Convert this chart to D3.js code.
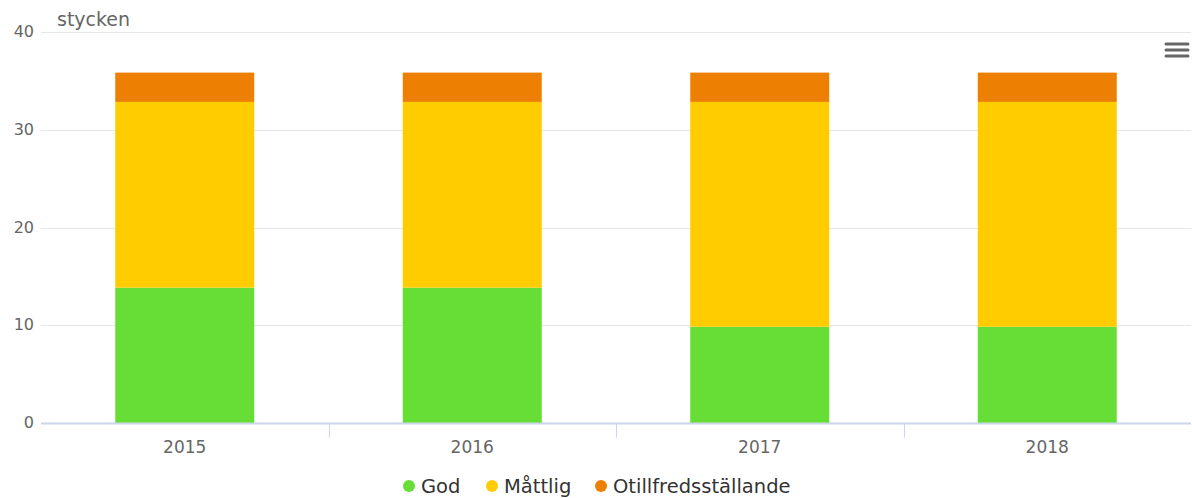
<!DOCTYPE html>
<html>
<head>
  <meta charset='utf-8'>
  <title>Stycken per år</title>
  <script src="https://cdnjs.cloudflare.com/ajax/libs/d3/7.8.5/d3.min.js"></script>
  <style>
    body { margin: 0; background: #fff; }
    text { font-family: 'DejaVu Sans', Verdana, sans-serif; }
  </style>
</head>
<body>
  <svg id="chart" width="1192" height="498"></svg>
  <script>
    const years = ['2015', '2016', '2017', '2018'];
    const seriesNames = ['God', 'Måttlig', 'Otillfredsställande'];
    const god = [14, 14, 10, 10];
    const mattlig = [19, 19, 23, 23];
    const otillfredsstallande = [3, 3, 3, 3];
    const yTicks = [0, 10, 20, 30, 40];
    const colors = ['#66de35', '#ffcc00', '#ed8002'];

    const width = 1192;
    const height = 498;
    const margin = { top: 32, right: 1, bottom: 75, left: 41 };

    const svg = d3.select('#chart');

    const rows = years.map((y, i) => ({ year: y, God: god[i], 'Måttlig': mattlig[i], Otillfredsställande: otillfredsstallande[i] }));
    const stacked = d3.stack().keys(seriesNames)(rows);

    const x = d3.scaleBand()
      .domain(years)
      .range([margin.left, width - margin.right]);

    const y = d3.scaleLinear()
      .domain([0, 40])
      .range([height - margin.bottom, margin.top]);

    // grid
    svg.append('g')
      .selectAll('line')
      .data(yTicks)
      .join('line')
      .attr('x1', margin.left)
      .attr('x2', width - margin.right)
      .attr('y1', d => Math.round(y(d)) + 0.5)
      .attr('y2', d => Math.round(y(d)) + 0.5)
      .attr('stroke', '#e6e6e6');

    // y labels
    svg.append('g')
      .selectAll('text')
      .data(yTicks)
      .join('text')
      .attr('x', 34)
      .attr('y', d => y(d) + 5)
      .attr('text-anchor', 'end')
      .attr('fill', '#666')
      .style('font-size', '16px')
      .text(d => d);

    svg.append('text')
      .attr('x', 57)
      .attr('y', 26)
      .attr('fill', '#666')
      .style('font-size', '19px')
      .text('stycken');

    // bars (1px offset mimics the crisp border of the original)
    const barW = 139;
    svg.append('g')
      .selectAll('g')
      .data(stacked)
      .join('g')
      .attr('fill', (d, i) => colors[i])
      .selectAll('rect')
      .data(d => d)
      .join('rect')
      .attr('x', d => x(d.data.year) + x.bandwidth() / 2 - barW / 2)
      .attr('y', d => y(d[1]) + 1.5)
      .attr('width', barW)
      .attr('height', d => Math.max(0, y(d[0]) - y(d[1]) - (d[0] === 0 ? 1.5 : 0)));

    // x axis
    const axisY = Math.round(y(0)) + 0.5;
    svg.append('line')
      .attr('x1', margin.left)
      .attr('x2', width - margin.right)
      .attr('y1', axisY)
      .attr('y2', axisY)
      .attr('stroke', '#ccd6eb')
      .attr('stroke-width', 2);

    svg.append('g')
      .selectAll('line')
      .data(years.slice(1))
      .join('line')
      .attr('x1', d => Math.round(x(d)) + 0.5)
      .attr('x2', d => Math.round(x(d)) + 0.5)
      .attr('y1', axisY)
      .attr('y2', axisY + 14)
      .attr('stroke', '#ccd6eb');

    svg.append('g')
      .selectAll('text')
      .data(years)
      .join('text')
      .attr('x', d => x(d) + x.bandwidth() / 2)
      .attr('y', 453)
      .attr('text-anchor', 'middle')
      .attr('fill', '#666')
      .style('font-size', '17px')
      .text(d => d);

    // legend
    const legendX = [409, 492, 601];
    const legend = svg.append('g')
      .selectAll('g')
      .data(seriesNames)
      .join('g')
      .attr('transform', (d, i) => `translate(${legendX[i]},486)`);
    legend.append('circle')
      .attr('r', 6)
      .attr('fill', (d, i) => colors[i]);
    legend.append('text')
      .attr('x', 12)
      .attr('y', 7)
      .attr('fill', '#333')
      .style('font-size', '19.5px')
      .text(d => d);

    // menu icon
    svg.append('g')
      .selectAll('line')
      .data([44, 50, 56])
      .join('line')
      .attr('x1', 1166)
      .attr('x2', 1188)
      .attr('y1', d => d)
      .attr('y2', d => d)
      .attr('stroke', '#666')
      .attr('stroke-width', 3)
      .attr('stroke-linecap', 'round');
  </script>
</body>
</html>
